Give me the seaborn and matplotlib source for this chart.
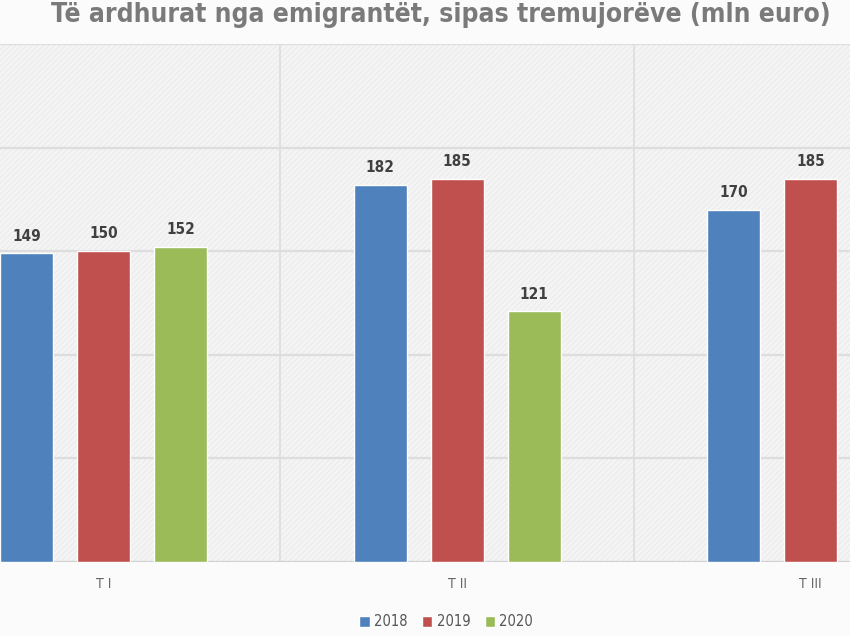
import matplotlib
matplotlib.use("Agg")
import matplotlib.pyplot as plt
import seaborn as sns
import pandas as pd
from matplotlib.patches import Rectangle

# data (T III 2020 not shown)
quarters = ["T I", "T II", "T III"]
years = ["2018", "2019", "2020"]
v2018 = [149, 182, 170]
v2019 = [150, 185, 185]
v2020 = [152, 121, None]

rows = []
for yr, vals in zip(years, [v2018, v2019, v2020]):
    for q, v in zip(quarters, vals):
        if v is not None:
            rows.append({"quarter": q, "year": yr, "value": v})
df = pd.DataFrame(rows)

colors = {"2018": "#4f81bd", "2019": "#c0504d", "2020": "#9bbb59"}

sns.set_style("white")
plt.rcParams["hatch.linewidth"] = 0.6
plt.rcParams["font.family"] = ["DejaVu Sans"]
plt.rcParams["font.stretch"] = "condensed"

fig = plt.figure(figsize=(8.5, 6.36), dpi=100, facecolor="#fbfbfb")
# plot area is cropped in the original: it runs past the left and right edges
ax = fig.add_axes([-0.0859, 0.1164, 1.2476, 0.8144])
ax.set_facecolor("#f4f4f4")
ax.add_patch(Rectangle((0, 0), 1, 1, transform=ax.transAxes, hatch="//////",
                       facecolor="none", edgecolor="#e9e9e9", lw=0, zorder=0))

sns.barplot(data=df, x="quarter", y="value", hue="year", order=quarters,
            hue_order=years, palette=colors, width=0.654, gap=0.31,
            saturation=1, ax=ax, zorder=3, legend=True)

for cont in ax.containers:
    ax.bar_label(cont, padding=7, fontsize=11, fontweight="bold", color="#404040")

ax.set_ylim(0, 250)
ax.set_xlim(-0.5, 2.5)
ax.set_yticks(range(0, 251, 50))
ax.set_yticklabels([])
ax.set_xticks(range(3))
ax.set_xticks([0.5, 1.5], minor=True)
ax.grid(axis="y", color="#dddddd", lw=1.6, zorder=1)
ax.grid(axis="x", which="minor", color="#dddddd", lw=1.2, zorder=1)
ax.tick_params(axis="both", length=0, which="both")
ax.tick_params(axis="x", labelsize=10, labelcolor="#666666", pad=11)
ax.set_xlabel("")
ax.set_ylabel("")
for s in ax.spines.values():
    s.set_visible(False)
ax.axhline(0, color="#d0d0d0", lw=1.5, zorder=2)

handles, labels = ax.get_legend_handles_labels()
ax.legend_.remove()
fig.legend(handles, labels, loc="center", bbox_to_anchor=(0.525, 1 - 622 / 636),
           ncol=3, frameon=False, fontsize=10.5, handlelength=0.7, handleheight=0.7,
           handletextpad=0.3, columnspacing=1.0, labelcolor="#555555")

fig.text(0.519, 1 - 22 / 636, "Të ardhurat nga emigrantët, sipas tremujorëve (mln euro)",
         ha="center", va="baseline", fontsize=19, fontweight="bold", color="#7a7a7a")

fig.savefig("out.png", dpi=100, facecolor=fig.get_facecolor())
